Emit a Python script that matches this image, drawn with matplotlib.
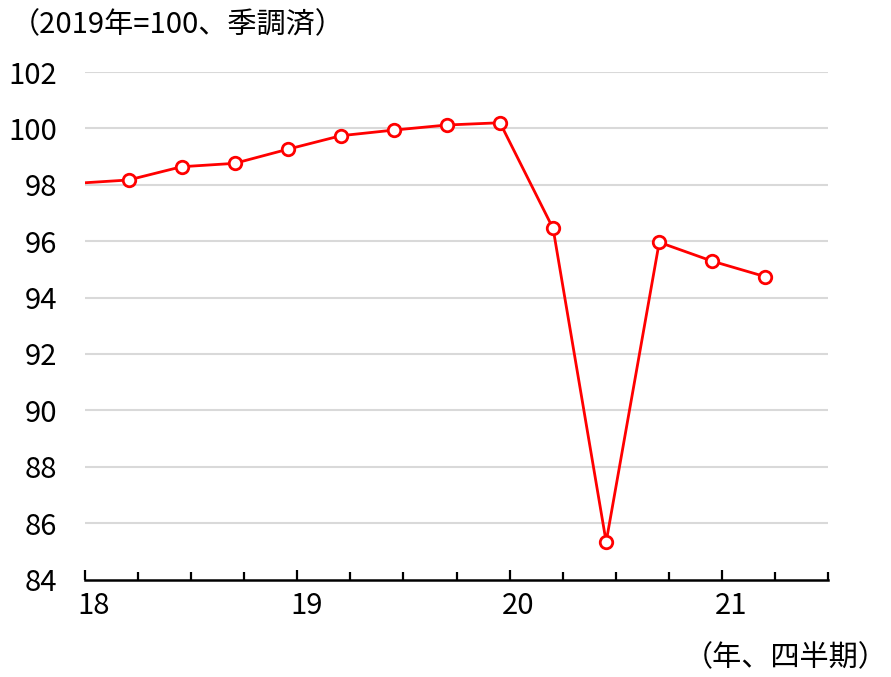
import numpy as np
import matplotlib
matplotlib.use("Agg")
import matplotlib.pyplot as plt
from matplotlib.ticker import MultipleLocator, FixedLocator
from matplotlib.transforms import ScaledTranslation

plt.rcParams["font.family"] = ["Noto Sans CJK JP", "DejaVu Sans"]

# quarterly index, 2019 = 100 (first value is 2017Q4, clipped at the left edge)
quarters = ["17Q4", "18Q1", "18Q2", "18Q3", "18Q4", "19Q1", "19Q2", "19Q3",
            "19Q4", "20Q1", "20Q2", "20Q3", "20Q4", "21Q1"]
values = [98.05, 98.17, 98.64, 98.76, 99.26, 99.74, 99.94, 100.12,
          100.20, 96.45, 85.33, 95.96, 95.29, 94.74]
year_labels = ["18", "19", "20", "21"]
y_ticks = [84, 86, 88, 90, 92, 94, 96, 98, 100, 102]

FS = 21
fig = plt.figure(figsize=(8.91, 6.77), dpi=100)
ax = fig.add_axes([85 / 891, 1 - 579.5 / 677, (828 - 85) / 891, (579.5 - 72) / 677])

# points sit late in each quarter slot on the original axis
x = np.arange(len(values)) - 1 + 0.82
ax.plot(x, values, color="#ff0000", lw=2.0, marker="o", ms=9,
        mfc="white", mec="#ff0000", mew=2.0, zorder=3)

ax.set_xlim(0, 14)
ax.set_ylim(84, 102)
ax.set_yticks(y_ticks)
ax.set_yticklabels([str(v) for v in y_ticks], fontsize=FS)
for v in y_ticks[1:]:
    ax.axhline(v, color="#d9d9d9", lw=1.5, zorder=1)

ax.xaxis.set_major_locator(FixedLocator([0, 4, 8, 12]))
ax.xaxis.set_minor_locator(MultipleLocator(1))
ax.set_xticklabels(year_labels, fontsize=FS)
ax.tick_params(axis="x", which="major", direction="in", length=7, width=1.6, pad=8)
ax.tick_params(axis="x", which="minor", direction="in", length=5.5, width=1.6)
ax.tick_params(axis="y", length=0, pad=20)
shift = ScaledTranslation(9 / 100, 0, fig.dpi_scale_trans)
for lab in ax.get_xticklabels():
    lab.set_transform(lab.get_transform() + shift)

for s in ["left", "right", "top"]:
    ax.spines[s].set_visible(False)
ax.spines["bottom"].set_linewidth(1.8)
ax.spines["bottom"].set_zorder(4)

fig.text(178 / 891, 1 - 25 / 677, "（2019年=100、季調済）", fontsize=FS,
         ha="center", va="center")
fig.text(786 / 891, 1 - 658 / 677, "（年、四半期）", fontsize=FS,
         ha="center", va="center")

fig.savefig("out.png", dpi=100)
